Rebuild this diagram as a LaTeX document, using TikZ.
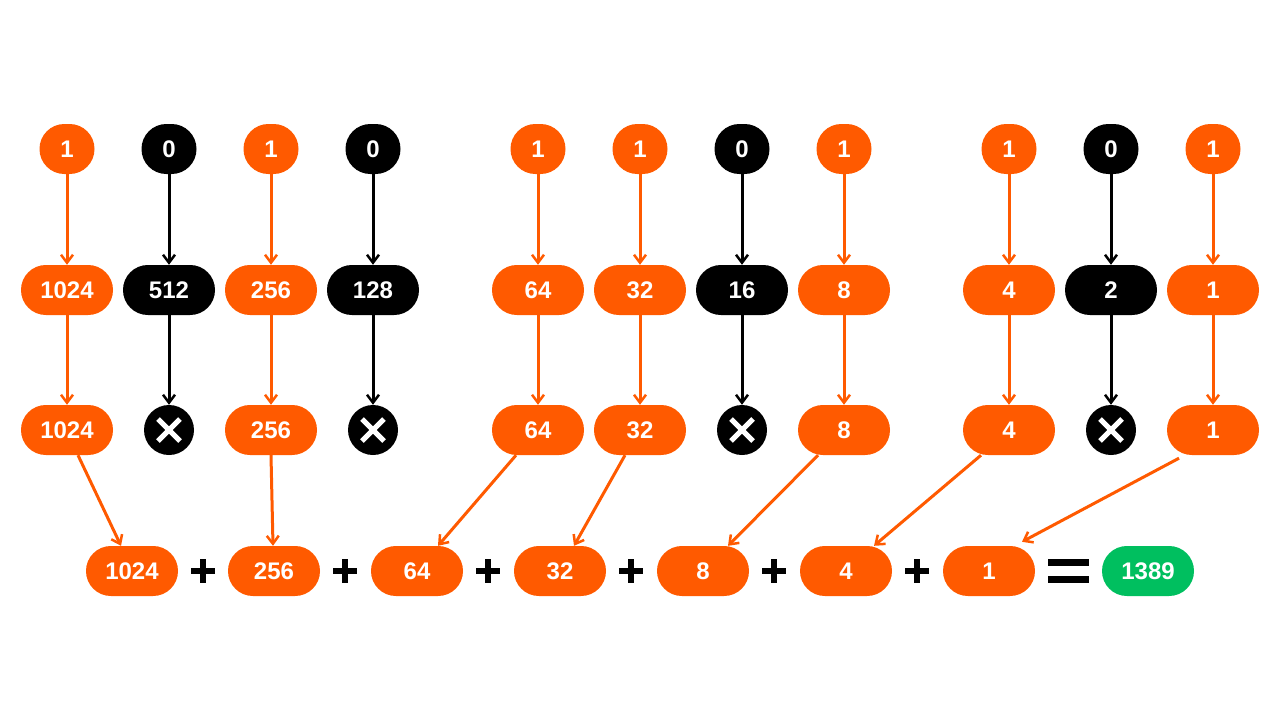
\documentclass[tikz,border=0pt]{standalone}
\usepackage{fontspec}
\setmainfont{Liberation Sans}
\usetikzlibrary{arrows.meta}
\definecolor{org}{HTML}{FF5A00}
\definecolor{grn}{HTML}{00BF5F}
\tikzset{
 base/.style={rounded corners=24.9pt,minimum height=50pt,inner sep=0pt,text=white,font=\bfseries\fontsize{24}{24}\selectfont},
 topo/.style={base,fill=org,minimum width=55pt},
 topb/.style={base,fill=black,minimum width=55pt},
 pillo/.style={base,fill=org,minimum width=92pt},
 pillb/.style={base,fill=black,minimum width=92pt},
 pillg/.style={base,fill=grn,minimum width=92pt},
 xc/.style={circle,fill=black,minimum size=50pt,inner sep=0pt},
 arr/.style={line width=3pt,-{Straight Barb[length=8pt,width=12pt,line width=2.5pt]}},
 arro/.style={arr,draw=org},
 arrb/.style={arr,draw=black},
 op/.style={line width=6pt}
}
\begin{document}
\begin{tikzpicture}[x=1pt,y=-1pt]
\useasboundingbox (0,0) rectangle (1280,720);
% columns: name, x, bit, value
\foreach \n/\x/\b/\v in {a/67/1/1024,b/169/0/512,c/271/1/256,d/373/0/128,e/538/1/64,f/640/1/32,g/742/0/16,h/844/1/8,i/1009/1/4,j/1111/0/2,k/1213/1/1}{
 \ifnum\b=1
  \node[topo] (t\n) at (\x,149) {1};
  \node[pillo] (m\n) at (\x,290) {\v};
  \node[pillo] (r\n) at (\x,430) {\v};
  \draw[arro] (t\n) -- (m\n);
  \draw[arro] (m\n) -- (r\n);
 \else
  \node[topb] (t\n) at (\x,149) {0};
  \node[pillb] (m\n) at (\x,290) {\v};
  \node[xc] (r\n) at (\x,430) {};
  \draw[white,line width=5pt] ([shift={(-11,-11)}]r\n.center) -- ([shift={(11,11)}]r\n.center);
  \draw[white,line width=5pt] ([shift={(-11,11)}]r\n.center) -- ([shift={(11,-11)}]r\n.center);
  \draw[arrb] (t\n) -- (m\n);
  \draw[arrb] (m\n) -- (r\n);
 \fi
}
\foreach \n/\x/\v in {b1/132/1024,b2/274/256,b3/417/64,b4/560/32,b5/703/8,b6/846/4,b7/989/1}{
 \node[pillo] (\n) at (\x,571) {\v};
}
\node[pillg] (res) at (1148,571) {1389};
\foreach \x in {203,345,488,631,774,917}{
 \draw[op] (\x-12,571) -- (\x+12,571);
 \draw[op] (\x,559) -- (\x,583);
}
\draw[line width=7pt] (1048,562) -- (1089,562);
\draw[line width=7pt] (1048,579) -- (1089,579);
\draw[arro] ([xshift=11pt]ra.south) -- ([xshift=-11pt]b1.north);
\draw[arro] (rc.south) -- ([xshift=-1pt]b2.north);
\draw[arro] ([xshift=-22pt]re.south) -- ([xshift=21pt]b3.north);
\draw[arro] ([xshift=-15pt]rf.south) -- ([xshift=14pt]b4.north);
\draw[arro] ([xshift=-26pt]rh.south) -- ([xshift=25pt]b5.north);
\draw[arro] ([xshift=-28pt]ri.south) -- ([xshift=28pt]b6.north);
\draw[arro] ([shift={(-34pt,-3pt)}]rk.south) -- ([shift={(33pt,4pt)}]b7.north);
\end{tikzpicture}
\end{document}
